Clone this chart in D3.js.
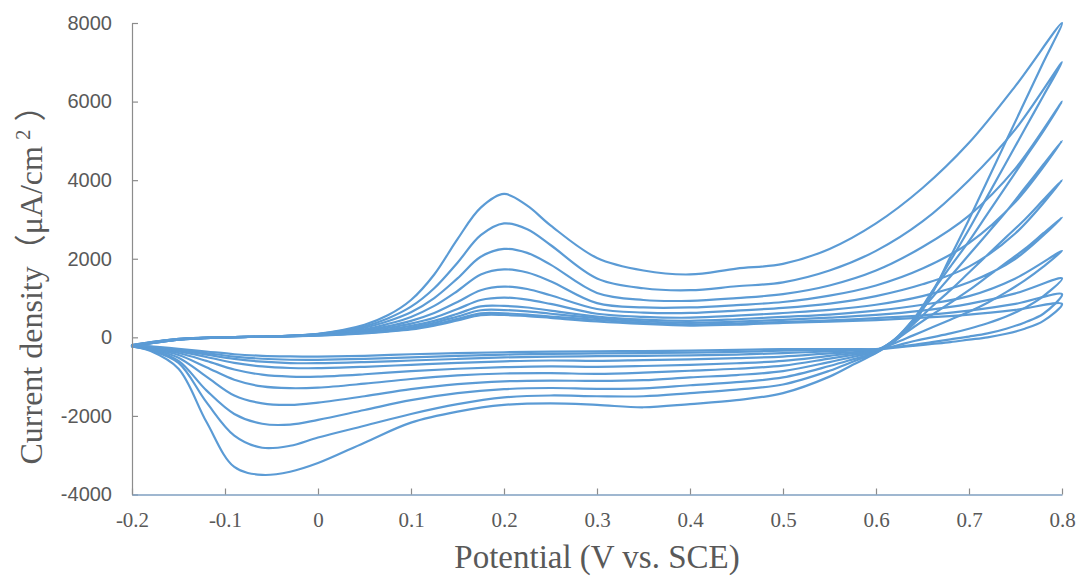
<!DOCTYPE html>
<html>
<head>
<meta charset="utf-8">
<script src="https://cdn.jsdelivr.net/npm/d3@7/dist/d3.min.js"></script>
<style>
  html, body { margin: 0; padding: 0; background: #ffffff; }
  svg { display: block; }
</style>
</head>
<body>
<svg id="chart" width="1083" height="577"></svg>
<script>
// ---------------- DATA ----------------
const xTicks = [-0.2, -0.1, 0, 0.1, 0.2, 0.3, 0.4, 0.5, 0.6, 0.7, 0.8];
const yTicks = [-4000, -2000, 0, 2000, 4000, 6000, 8000];

// potentials (V vs. SCE) of the anodic (forward) and cathodic (reverse) sweeps
const forwardPotentials = [-0.2,-0.15,-0.1,-0.05,0,0.05,0.075,0.1,0.125,0.15,0.175,0.2,0.225,0.25,0.3,0.35,0.4,0.45,0.5,0.55,0.6,0.65,0.7,0.75,0.8];
const reversePotentials = [0.8,0.78,0.76,0.74,0.72,0.7,0.68,0.66,0.64,0.62,0.6,0.575,0.55,0.5,0.45,0.4,0.35,0.3,0.25,0.2,0.15,0.1,0.05,0,-0.03,-0.06,-0.09,-0.12,-0.15,-0.18,-0.2];

// current density (µA/cm2), one pair of arrays per cycle, largest first
const cycle1Forward  = [-230,-60,0,25,90,320,560,950,1600,2500,3300,3650,3350,2850,2020,1700,1600,1750,1870,2250,2900,3800,4950,6400,8000];
const cycle1Reverse  = [8000,7000,6000,5000,4000,3000,2050,1100,350,-100,-400,-700,-1000,-1420,-1600,-1700,-1780,-1720,-1680,-1720,-1890,-2170,-2680,-3200,-3420,-3500,-3300,-2150,-800,-350,-230];

const cycle2Forward  = [-230,-60,0,25,85,280,480,780,1250,1900,2600,2900,2750,2350,1500,1250,1200,1300,1400,1700,2200,2950,4000,5300,7000];
const cycle2Reverse  = [7000,6150,5300,4450,3600,2750,1950,1150,400,-80,-390,-620,-850,-1200,-1330,-1420,-1500,-1500,-1480,-1530,-1700,-1950,-2250,-2550,-2760,-2810,-2500,-1650,-650,-330,-230];

const cycle3Forward  = [-230,-60,0,25,80,245,410,640,1000,1500,2050,2250,2150,1850,1130,950,930,1000,1100,1320,1700,2300,3100,4300,6000];
const cycle3Reverse  = [6000,5250,4550,3850,3150,2450,1800,1150,450,-60,-380,-560,-730,-1020,-1140,-1220,-1300,-1310,-1290,-1320,-1420,-1600,-1850,-2100,-2220,-2200,-1950,-1350,-600,-320,-230];

const cycle4Forward  = [-220,-55,0,22,75,205,340,520,800,1180,1600,1730,1650,1430,870,760,760,820,900,1060,1320,1750,2400,3450,5000];
const cycle4Reverse  = [5000,4400,3800,3200,2650,2100,1550,1000,450,-50,-360,-500,-630,-860,-960,-1020,-1090,-1110,-1100,-1120,-1190,-1320,-1500,-1660,-1720,-1680,-1480,-1000,-520,-300,-220];

const cycle5Forward  = [-220,-50,0,20,70,175,280,420,620,900,1200,1290,1230,1070,720,630,620,680,750,860,1050,1350,1800,2650,4000];
const cycle5Reverse  = [4000,3500,3000,2550,2100,1650,1200,780,330,-60,-350,-450,-540,-720,-800,-850,-900,-930,-910,-920,-970,-1060,-1180,-1280,-1295,-1250,-1080,-760,-450,-290,-220];

const cycle6Forward  = [-210,-50,0,20,65,155,240,350,500,720,950,1010,960,850,600,520,500,550,620,700,830,1050,1400,2000,3050];
const cycle6Reverse  = [3050,2650,2250,1900,1550,1200,880,570,250,-80,-330,-410,-470,-600,-660,-700,-730,-750,-740,-760,-800,-860,-940,-1000,-1000,-950,-820,-600,-400,-270,-210];

const cycle7Forward  = [-210,-45,0,18,60,135,200,290,420,600,790,800,760,680,530,450,420,460,520,580,680,830,1050,1500,2200];
const cycle7Reverse  = [2200,1800,1450,1150,880,650,450,250,50,-150,-320,-380,-410,-490,-530,-560,-580,-600,-590,-610,-650,-700,-750,-785,-780,-740,-650,-500,-360,-260,-210];

const cycle8Forward  = [-200,-45,0,18,55,122,175,250,370,530,690,695,660,600,490,410,370,400,445,500,570,680,850,1120,1500];
const cycle8Reverse  = [1500,1050,750,530,360,220,100,0,-100,-220,-320,-340,-360,-400,-440,-460,-470,-480,-490,-510,-550,-590,-630,-658,-655,-620,-550,-440,-330,-250,-200];

const cycle9Forward  = [-200,-40,0,16,50,112,160,220,330,470,610,610,580,530,446,370,330,350,395,430,490,560,680,850,1100];
const cycle9Reverse  = [1100,600,380,220,100,20,-50,-120,-190,-250,-300,-310,-320,-340,-370,-390,-400,-410,-420,-440,-470,-510,-550,-573,-570,-545,-490,-400,-310,-240,-200];

const cycle10Forward = [-200,-40,0,15,45,102,145,200,300,430,565,570,540,495,403,340,300,320,370,400,440,500,580,700,850];
const cycle10Reverse = [850,420,220,90,0,-60,-120,-170,-220,-265,-300,-300,-300,-300,-320,-340,-350,-355,-365,-380,-400,-430,-470,-489,-485,-470,-430,-360,-290,-230,-200];

const xTitle = "Potential (V vs. SCE)";
const yTitleMain = "Current density（μA/cm";
const yTitleSup = "2";
const yTitleEnd = " ）";

// ---------------- CHART ----------------
const cycles = [
  [cycle1Forward, cycle1Reverse], [cycle2Forward, cycle2Reverse],
  [cycle3Forward, cycle3Reverse], [cycle4Forward, cycle4Reverse],
  [cycle5Forward, cycle5Reverse], [cycle6Forward, cycle6Reverse],
  [cycle7Forward, cycle7Reverse], [cycle8Forward, cycle8Reverse],
  [cycle9Forward, cycle9Reverse], [cycle10Forward, cycle10Reverse]
];

const svg = d3.select("#chart");
svg.append("rect").attr("width", 1083).attr("height", 577).attr("fill", "#ffffff");

const plot = { left: 132, right: 1062, top: 23, bottom: 494.5 };
const x = d3.scaleLinear().domain([-0.2, 0.8]).range([plot.left, plot.right]);
const y = d3.scaleLinear().domain([-4000, 8000]).range([plot.bottom, plot.top]);

const textColor = "#595959";

// curves
const line = d3.line()
  .x(d => x(d[0]))
  .y(d => y(d[1]))
  .curve(d3.curveCatmullRom.alpha(0.5));

const loops = cycles.map(([fw, rv]) => {
  const pts = forwardPotentials.map((p, i) => [p, fw[i]]);
  reversePotentials.forEach((p, i) => { if (i > 0) pts.push([p, rv[i]]); });
  return pts;
});

svg.append("g")
  .selectAll("path")
  .data(loops)
  .join("path")
  .attr("d", line)
  .attr("fill", "none")
  .attr("stroke", "#5B9BD5")
  .attr("stroke-width", 2.2)
  .attr("stroke-linejoin", "round")
  .attr("stroke-linecap", "round");

// y axis
const yAxis = svg.append("g")
  .attr("transform", `translate(${plot.left},0)`)
  .call(d3.axisLeft(y).tickValues(yTicks).tickFormat(d => String(d))
        .tickSizeInner(-6).tickSizeOuter(0).tickPadding(20));
yAxis.select(".domain").attr("stroke", "#8c8c8c").attr("stroke-width", 1.2);
yAxis.selectAll(".tick line").attr("stroke", "#8c8c8c").attr("stroke-width", 1.2);
yAxis.selectAll(".tick text")
  .attr("fill", textColor)
  .style("font-family", "'Liberation Sans', Arial, sans-serif")
  .style("font-size", "20px");

// x axis
const xAxis = svg.append("g")
  .attr("transform", `translate(0,${plot.bottom})`)
  .call(d3.axisBottom(x).tickValues(xTicks).tickFormat(d => Math.abs(d) < 1e-9 ? "0" : d.toFixed(1))
        .tickSizeInner(-6).tickSizeOuter(0).tickPadding(18));
xAxis.select(".domain").attr("stroke", "#7f9fc0").attr("stroke-width", 1.4);
xAxis.selectAll(".tick line").attr("stroke", "#8c8c8c").attr("stroke-width", 1.2);
xAxis.selectAll(".tick text")
  .attr("fill", textColor)
  .style("font-family", "'Liberation Serif', 'Times New Roman', serif")
  .style("font-size", "21px");

// axis titles
svg.append("text")
  .attr("x", 597).attr("y", 568)
  .attr("text-anchor", "middle")
  .attr("fill", textColor)
  .style("font-family", "'Liberation Serif', 'Times New Roman', serif")
  .style("font-size", "33px")
  .text(xTitle);

const yt = svg.append("text")
  .attr("transform", "translate(42,277) rotate(-90)")
  .attr("text-anchor", "middle")
  .attr("fill", textColor)
  .style("font-family", "'Liberation Serif', 'Times New Roman', 'Noto Sans CJK SC', serif")
  .style("font-size", "32px");
yt.append("tspan").text(yTitleMain);
yt.append("tspan").attr("dx", 6).attr("dy", -12).style("font-size", "21px").text(yTitleSup);
yt.append("tspan").attr("dy", 12).text(yTitleEnd);
</script>
</body>
</html>
